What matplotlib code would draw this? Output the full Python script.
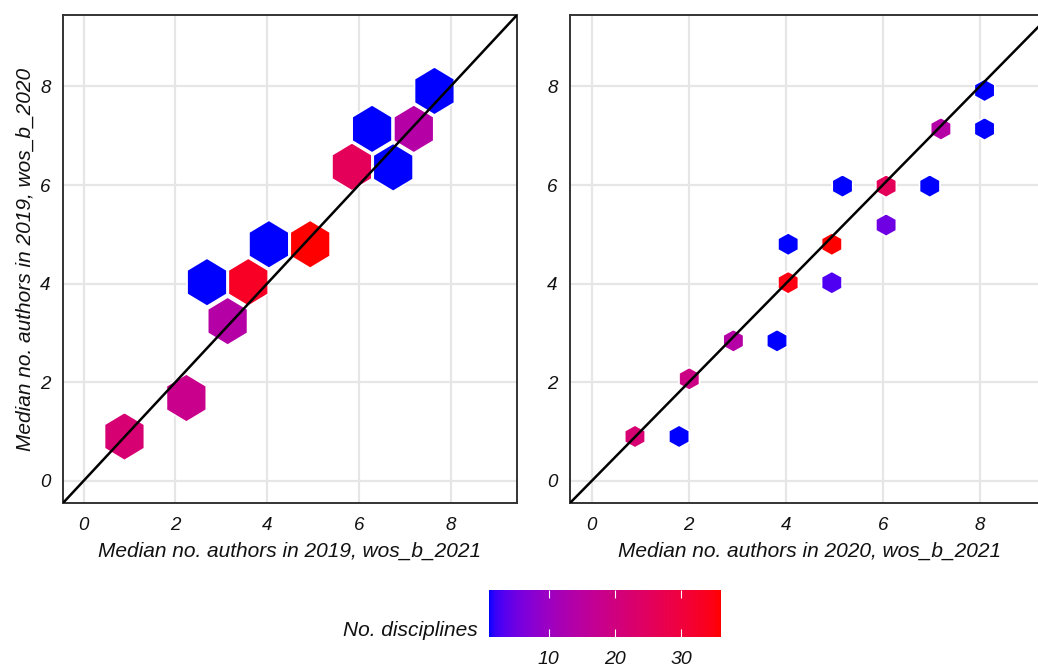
# hexbin-style comparison of median author counts, two panels + shared colour bar

import numpy as np
import matplotlib
matplotlib.use('Agg')
import matplotlib.pyplot as plt
from matplotlib.colors import ListedColormap
from matplotlib.ticker import MultipleLocator

plt.rcParams['font.family'] = ['Liberation Sans', 'DejaVu Sans']
plt.rcParams['font.style'] = 'italic'

# left panel: 2019 (wos_b_2021) vs 2019 (wos_b_2020)
p1_x = [0.89, 2.24, 3.14, 2.69, 3.59, 4.04, 4.94, 5.85, 6.75, 6.29, 7.20, 7.65]
p1_y = [0.90, 1.68, 3.24, 4.03, 4.03, 4.80, 4.80, 6.37, 6.36, 7.14, 7.14, 7.91]
p1_n = [22, 18, 14, 1, 33, 1, 36, 26, 1, 1, 14, 1]

# right panel: 2020 (wos_b_2021) vs 2019 (wos_b_2020)
p2_x = [0.89, 1.80, 2.01, 2.92, 3.82, 4.05, 4.95, 4.05, 4.95, 6.07, 5.17, 6.07, 6.97, 7.20, 8.10, 8.10]
p2_y = [0.90, 0.90, 2.07, 2.84, 2.84, 4.02, 4.02, 4.80, 4.80, 5.19, 5.98, 5.98, 5.98, 7.14, 7.14, 7.92]
p2_n = [22, 1, 19, 14, 1, 35, 3, 1, 36, 5, 1, 26, 1, 14, 1, 1]

xlabels = ['Median no. authors in 2019, wos_b_2021', 'Median no. authors in 2020, wos_b_2021']
ylabel = 'Median no. authors in 2019, wos_b_2020'
cbar_label = 'No. disciplines'
n_min, n_max = 1, 36


# blue -> red gradient interpolated in CIELAB (like ggplot's scale_fill_gradient)
M = np.array([[0.4124, 0.3576, 0.1805], [0.2126, 0.7152, 0.0722], [0.0193, 0.1192, 0.9505]])
WHITE = np.array([0.95047, 1.0, 1.08883])


def to_lab(rgb):
    rgb = np.asarray(rgb, float)
    lin = np.where(rgb <= 0.04045, rgb / 12.92, ((rgb + 0.055) / 1.055) ** 2.4)
    t = M @ lin / WHITE
    f = np.where(t > 0.008856, np.cbrt(t), 7.787 * t + 16 / 116)
    return np.array([116 * f[1] - 16, 500 * (f[0] - f[1]), 200 * (f[1] - f[2])])


def from_lab(lab):
    L, a, b = lab
    fy = (L + 16) / 116
    f = np.array([fy + a / 500, fy, fy - b / 200])
    t = np.where(f ** 3 > 0.008856, f ** 3, (f - 16 / 116) / 7.787)
    lin = np.linalg.solve(M, t * WHITE)
    lin = np.clip(lin, 0, 1)
    rgb = np.where(lin <= 0.0031308, 12.92 * lin, 1.055 * lin ** (1 / 2.4) - 0.055)
    return np.clip(rgb, 0, 1)


lab_lo, lab_hi = to_lab([0, 0, 1]), to_lab([1, 0, 0])
cmap = ListedColormap([from_lab(lab_lo + (lab_hi - lab_lo) * s) for s in np.linspace(0, 1, 256)])


def hex_marker(w):
    # pointy-top hexagon, half width w relative to half height 1
    return [(0, 1), (w, 0.5), (w, -0.5), (0, -1), (-w, -0.5), (-w, 0.5), (0, 1)]


W, H = 1038, 666
fig = plt.figure(figsize=(W / 100, H / 100), dpi=100)
ax1 = fig.add_axes([63 / W, 1 - 503 / H, 454 / W, 488 / H])
ax2 = fig.add_axes([570 / W, 1 - 503 / H, 480 / W, 488 / H])

panels = [(ax1, p1_x, p1_y, p1_n, 0.83, 34.6), (ax2, p2_x, p2_y, p2_n, 0.9, 16.4)]
for i, (ax, x, y, n, w, size) in enumerate(panels):
    ax.set_xlim(-0.45, 9.45)
    ax.set_ylim(-0.45, 9.45)
    ax.xaxis.set_major_locator(MultipleLocator(2))
    ax.yaxis.set_major_locator(MultipleLocator(2))
    ax.grid(True, color='#E6E6E6', lw=1.6)
    ax.set_axisbelow(True)
    sc = ax.scatter(x, y, c=n, cmap=cmap, vmin=n_min, vmax=n_max, marker=hex_marker(w),
                    s=size ** 2, edgecolors='white', linewidths=1.2, zorder=2)
    ax.axline((0, 0), slope=1, color='black', lw=1.8, zorder=3)
    for sp in ax.spines.values():
        sp.set_color('#333333')
        sp.set_linewidth(1.4)
    ax.tick_params(length=0, labelsize=13.5, labelcolor='#111111')
    ax.tick_params(axis='x', pad=10)
    ax.tick_params(axis='y', pad=9)
    ax.set_xlabel(xlabels[i], fontsize=15, labelpad=6, color='#111111')
ax1.set_ylabel(ylabel, fontsize=15, labelpad=4, color='#111111')

cax = fig.add_axes([489 / W, 1 - 637 / H, 232 / W, 47 / H])
cb = fig.colorbar(sc, cax=cax, orientation='horizontal', ticks=[10, 20, 30])
cb.outline.set_visible(False)
cax.tick_params(top=True, bottom=True, direction='in', length=6, width=0.8,
                color='white', labelsize=14, pad=10, labelcolor='#111111')
fig.text(478 / W, 1 - 636 / H, cbar_label, ha='right', va='baseline', fontsize=15,
         color='#111111')

fig.savefig('out.png', dpi=100)
